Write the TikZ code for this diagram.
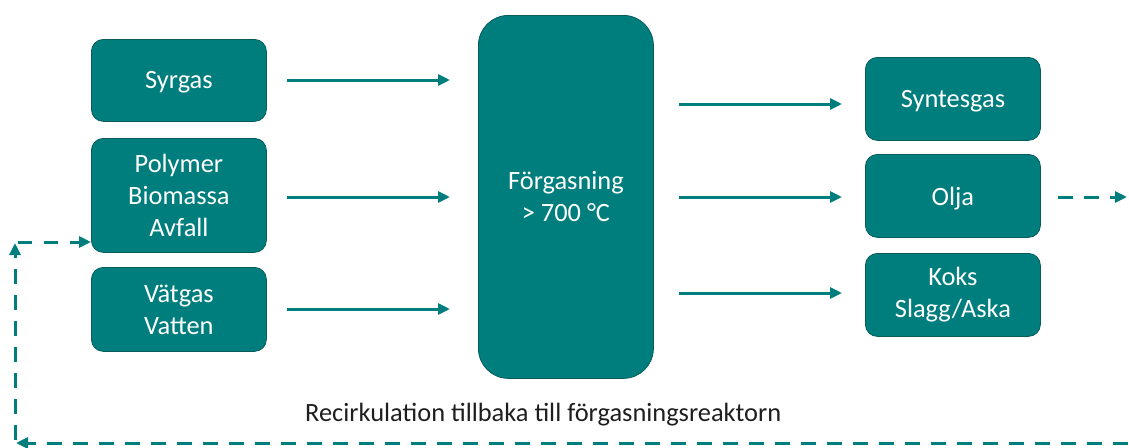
\documentclass[tikz,border=0pt]{standalone}
\usepackage{fontspec}
\setmainfont{Carlito}
\usetikzlibrary{arrows.meta}
\definecolor{teal1}{RGB}{0,125,125}
\definecolor{tealedge}{RGB}{8,92,92}
\definecolor{txt}{RGB}{30,30,30}
\begin{document}
\begin{tikzpicture}[x=1pt,y=-1pt,
  box/.style={draw=tealedge,line width=0.8pt,fill=teal1,rounded corners=12pt,
    text=white,font=\fontsize{26.4}{32}\selectfont,align=center,inner sep=0pt,anchor=north west},
  oneline/.style={text depth=0pt},
  flow/.style={draw=teal1,line width=3pt,-{Triangle[length=12pt,width=11pt]}},
  dflow/.style={draw=teal1,line width=3pt,dash pattern=on 15pt off 11pt,-{Triangle[length=12pt,width=11pt]}}
]
\useasboundingbox (0,0) rectangle (1129,447);
\node[box,oneline,minimum width=175pt,minimum height=82pt] (syr) at (91,39) {Syrgas};
\node[box,minimum width=175pt,minimum height=114pt] (pol) at (91,138) {Polymer\\Biomassa\\Avfall};
\node[box,minimum width=175pt,minimum height=84pt] (vat) at (91,267) {Vätgas\\Vatten};
\node[box,rounded corners=30pt,minimum width=175pt,minimum height=363pt] (gas) at (478,15) {Förgasning\\> 700 °C};
\node[box,oneline,minimum width=175pt,minimum height=83pt] (syn) at (865,57) {Syntesgas};
\node[box,oneline,minimum width=175pt,minimum height=83pt] (olj) at (865,154) {Olja};
\node[box,minimum width=175pt,minimum height=83pt] (kok) at (865,253) {Koks\\Slagg/Aska};
\node[text=txt,font=\fontsize{26.4}{30}\selectfont,anchor=base west,inner sep=0pt] (rec) at (305,421) {Recirkulation tillbaka till förgasningsreaktorn};
% inputs
\draw[flow,shorten <=20pt,shorten >=28pt] (syr.east |- 0,80) -- (gas.west |- 0,80);
\draw[flow,shorten <=20pt,shorten >=28pt] (pol.east |- 0,197) -- (gas.west |- 0,197);
\draw[flow,shorten <=20pt,shorten >=28pt] (vat.east |- 0,309) -- (gas.west |- 0,309);
% outputs
\draw[flow,shorten <=25pt,shorten >=23pt] (gas.east |- 0,104) -- (syn.west |- 0,104);
\draw[flow,shorten <=25pt,shorten >=23pt] (gas.east |- 0,197) -- (olj.west |- 0,197);
\draw[flow,shorten <=25pt,shorten >=23pt] (gas.east |- 0,293) -- (kok.west |- 0,293);
% oil out
\coordinate (oout) at (1127,197);
\draw[dflow,shorten <=17pt] (olj.east |- oout) -- (oout);
% recirculation
\coordinate (br) at (1128,443);
\coordinate (bl) at (16,443);
\coordinate (vl) at (15,440);
\coordinate (tl) at (15,243);
\coordinate (ts) at (18,242);
\draw[dflow] (br) -- (bl);
\draw[dflow] (vl) -- (tl);
\draw[dflow,dash pattern=on 14pt off 12pt] (ts) -- (pol.west |- ts);
\end{tikzpicture}
\end{document}
